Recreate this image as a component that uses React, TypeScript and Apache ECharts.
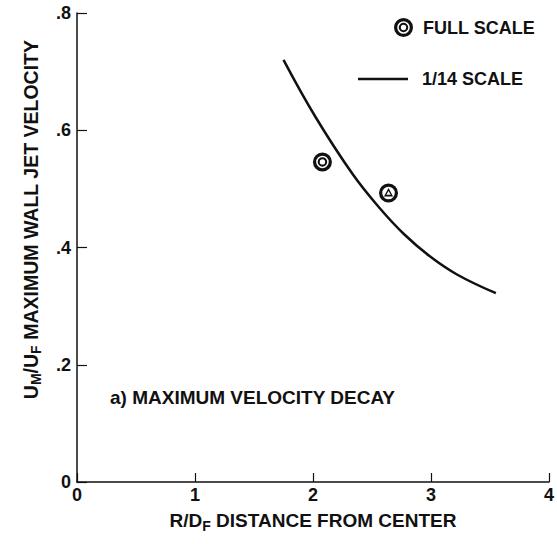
import React, { useEffect, useRef } from "react";
import * as echarts from "echarts";

const xTicks = [0, 1, 2, 3, 4];
const yTicks = [0, 0.2, 0.4, 0.6, 0.8];
const curveX = [1.75, 2.02, 2.34, 2.57, 2.77, 2.99, 3.22, 3.55];
const curveY = [0.72, 0.623, 0.524, 0.466, 0.423, 0.385, 0.354, 0.322];
const fullScaleX = [2.08, 2.64];
const fullScaleY = [0.546, 0.493];
const seriesNames = ["FULL SCALE", "1/14 SCALE"];
const panelLabel = "a) MAXIMUM VELOCITY DECAY";

const FONT = "'Liberation Sans', Arial, Helvetica, sans-serif";

const ringPath =
  "path://M10,0 A10,10 0 1,1 -10,0 A10,10 0 1,1 10,0 Z " +
  "M6.6,0 A6.6,6.6 0 1,0 -6.6,0 A6.6,6.6 0 1,0 6.6,0 Z " +
  "M5,0 A5,5 0 1,1 -5,0 A5,5 0 1,1 5,0 Z " +
  "M2.8,0 A2.8,2.8 0 1,0 -2.8,0 A2.8,2.8 0 1,0 2.8,0 Z";

const triPath =
  "path://M10,0 A10,10 0 1,1 -10,0 A10,10 0 1,1 10,0 Z " +
  "M6.6,0 A6.6,6.6 0 1,0 -6.6,0 A6.6,6.6 0 1,0 6.6,0 Z " +
  "M0,-5.2 L4.8,3.6 L-4.8,3.6 Z " +
  "M0,-2.2 L-2.3,1.8 L2.3,1.8 Z";

const markerSymbols = [ringPath, triPath];

export default function App() {
  const ref = useRef<HTMLDivElement>(null);
  useEffect(() => {
    if (!ref.current) return;
    const chart = echarts.init(ref.current, undefined, { renderer: "svg" });
    const boldText = { fontFamily: FONT, fontWeight: "bold" as const, color: "#111" };
    chart.setOption({
      animation: false,
      backgroundColor: "#fff",
      grid: { left: 77, right: 8, top: 13, bottom: 62 },
      xAxis: {
        type: "value",
        min: xTicks[0],
        max: xTicks[xTicks.length - 1],
        interval: 1,
        axisLine: { show: true, lineStyle: { color: "#111", width: 1.5 } },
        axisTick: { show: true, inside: true, length: 9, lineStyle: { color: "#111", width: 1.2 } },
        splitLine: { show: false },
        axisLabel: { ...boldText, fontSize: 18, margin: 4 },
        name: "{b|R/D}{s|F}{b| DISTANCE FROM CENTER}",
        nameLocation: "middle",
        nameGap: 22,
        nameTextStyle: {
          rich: {
            b: { ...boldText, fontSize: 19, lineHeight: 20 },
            s: { ...boldText, fontSize: 14, lineHeight: 14, padding: [10, 0, 0, 0] },
          },
        },
      },
      yAxis: {
        type: "value",
        min: yTicks[0],
        max: yTicks[yTicks.length - 1],
        interval: 0.2,
        axisLine: { show: true, lineStyle: { color: "#111", width: 1.5 } },
        axisTick: { show: true, inside: true, length: 10, lineStyle: { color: "#111", width: 1.2 } },
        splitLine: { show: false },
        axisLabel: {
          ...boldText,
          fontSize: 18,
          margin: 6,
          formatter: (v: number) => (v === 0 ? "0" : v.toFixed(1).replace(/^0/, "")),
        },
        name: "{b|U}{s|M}{b|/U}{s|F}{b| MAXIMUM WALL JET VELOCITY}",
        nameLocation: "middle",
        nameRotate: 90,
        nameGap: 36,
        nameTextStyle: {
          padding: [0, 0, 0, 56],
          rich: {
            b: { ...boldText, fontSize: 19.5, lineHeight: 20 },
            s: { ...boldText, fontSize: 14, lineHeight: 14, padding: [10, 0, 0, 0] },
          },
        },
      },
      legend: [
        {
          data: [{ name: seriesNames[0], icon: ringPath }],
          left: 394,
          top: 18,
          padding: 0,
          itemWidth: 19,
          itemHeight: 19,
          selectedMode: false,
          itemStyle: { opacity: 1 },
          textStyle: { ...boldText, fontSize: 18, padding: [0, 0, 0, 5] },
        },
        {
          data: [{ name: seriesNames[1], icon: "rect" }],
          left: 358,
          top: 70,
          padding: 0,
          itemWidth: 50,
          itemHeight: 2.5,
          selectedMode: false,
          textStyle: { ...boldText, fontSize: 18, padding: [0, 0, 0, 9] },
        },
      ],
      graphic: [
        {
          type: "text",
          left: 110,
          top: 388,
          style: { text: panelLabel, font: `bold 19px ${FONT}`, fill: "#111" },
        },
      ],
      series: [
        {
          name: seriesNames[0],
          type: "scatter",
          symbol: ringPath,
          symbolSize: 19,
          itemStyle: { color: "#111", opacity: 1 },
          data: fullScaleX.map((x, i) => ({
            value: [x, fullScaleY[i]],
            symbol: markerSymbols[i],
          })),
          z: 3,
        },
        {
          name: seriesNames[1],
          type: "line",
          smooth: 0.4,
          showSymbol: false,
          symbol: "none",
          lineStyle: { color: "#111", width: 2.5 },
          itemStyle: { color: "#111" },
          data: curveX.map((x, i) => [x, curveY[i]]),
          z: 2,
        },
      ],
    });
    return () => chart.dispose();
  }, []);
  return <div ref={ref} style={{ width: 557, height: 544, position: "absolute", left: 0, top: 0 }} />;
}
